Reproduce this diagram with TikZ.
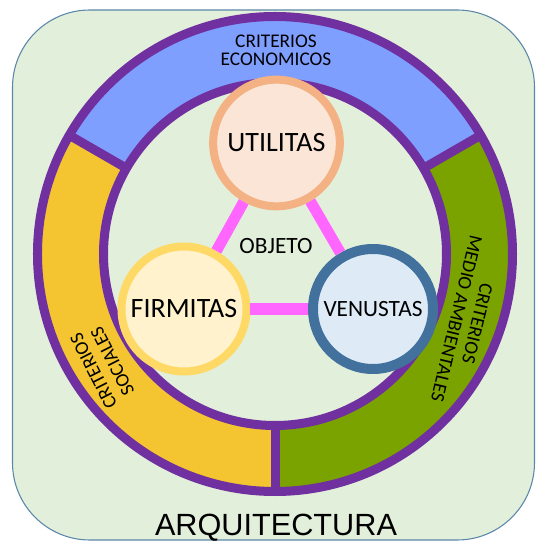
\documentclass[tikz,border=0pt]{standalone}
\usepackage{fontspec}
\setmainfont{Carlito}
\newfontfamily\arialfont{Liberation Sans}
\usepackage{tikz}
\usetikzlibrary{positioning}

\definecolor{bgGreen}{HTML}{E2EFDA}
\definecolor{frameBlue}{HTML}{5B87AA}
\definecolor{ringPurple}{HTML}{7030A0}
\definecolor{ringBlue}{HTML}{7F9FFF}
\definecolor{ringYellow}{HTML}{F4C531}
\definecolor{ringGreen}{HTML}{7AA300}
\definecolor{utilFill}{HTML}{FBE5D6}
\definecolor{utilLine}{HTML}{F4B183}
\definecolor{firmFill}{HTML}{FFF2CC}
\definecolor{firmLine}{HTML}{FFD966}
\definecolor{venFill}{HTML}{DEEBF7}
\definecolor{venLine}{HTML}{41719C}
\definecolor{linkPink}{HTML}{FF66FF}

\begin{document}
\begin{tikzpicture}[x=0.75pt,y=0.75pt,
	band/.style={draw=ringPurple,line width=6.75pt},
	virtue/.style={circle,inner sep=0pt,line width=6pt,minimum size=93.75pt,font=\fontsize{21}{25}\selectfont},
	link/.style={draw=linkPink,line width=8.25pt},
	criterio/.style={align=center,font=\fontsize{14.5}{16}\selectfont}]
		\useasboundingbox (-275,-288) rectangle (260,254);
		\draw[fill=bgGreen,draw=frameBlue,line width=0.8pt,rounded corners=58pt] (-262.5,-286) rectangle (259.5,244);
		
		\fill[ringBlue] (30:237.5) arc[start angle=30,end angle=150,radius=237.5] -- (150:171.5) arc[start angle=150,end angle=30,radius=171.5] -- cycle;
		\fill[ringYellow] (150:237.5) arc[start angle=150,end angle=270,radius=237.5] -- (270:171.5) arc[start angle=270,end angle=150,radius=171.5] -- cycle;
		\fill[ringGreen] (270:237.5) arc[start angle=270,end angle=390,radius=237.5] -- (30:171.5) arc[start angle=390,end angle=270,radius=171.5] -- cycle;
		\draw[band] (0,0) circle[radius=237.5];
		\draw[band] (0,0) circle[radius=171.5];
		\draw[band] (30:171.5) -- (30:237.5);
		\draw[band] (150:171.5) -- (150:237.5);
		\draw[band] (270:171.5) -- (270:237.5);
		
		\node[virtue,fill=utilFill,draw=utilLine,minimum size=95pt] (utilitas) at (1.5,111) {UTILITAS};
		\node[virtue,fill=firmFill,draw=firmLine] (firmitas) at (-91,-55) {FIRMITAS};
		\node[virtue,fill=venFill,draw=venLine,line width=7.5pt,minimum size=90pt,font=\fontsize{17.5}{21}\selectfont] (venustas) at (98,-55) {VENUSTAS};
		
		\draw[link] (utilitas) -- (firmitas);
		\draw[link] (utilitas) -- (venustas);
		\draw[link] (firmitas) -- (venustas);
		
		\node[font=\fontsize{17.5}{21}\selectfont] (objeto) at (1,8) {OBJETO};
		\node[criterio,font=\fontsize{14.5}{13.3}\selectfont] (economicos) at (1,204) {CRITERIOS\\ECONOMICOS};
		\node[criterio,rotate=117] (sociales) at (-172,-112) {CRITERIOS\\SOCIALES};
		\node[criterio,rotate=-103.5] (ambientales) at (192,-67) {CRITERIOS\\MEDIO AMBIENTALES};
		\node[anchor=base,font=\arialfont\fontsize{23}{27}\selectfont] (arquitectura) at (1,-281) {ARQUITECTURA};
\end{tikzpicture}
\end{document}
